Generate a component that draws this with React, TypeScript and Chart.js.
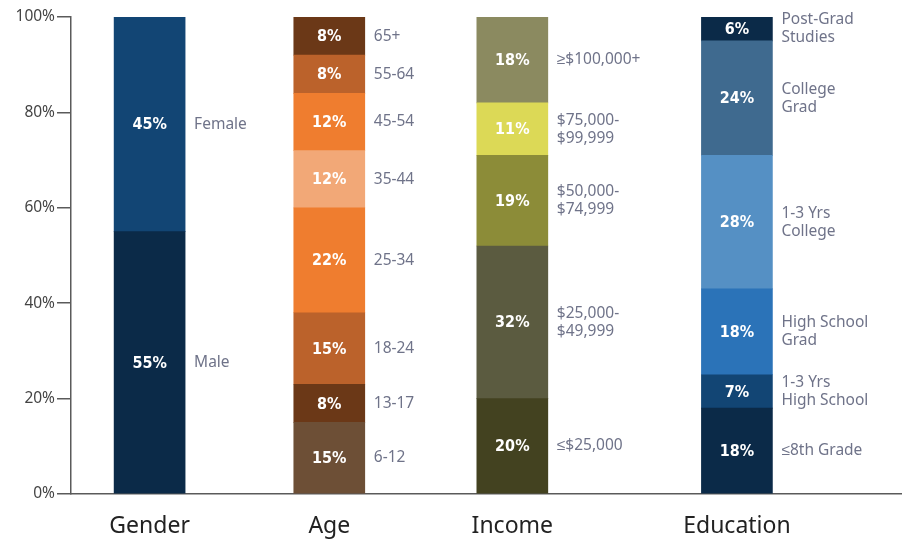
import React, { useEffect, useRef } from "react";
import { Chart, registerables } from "chart.js";

Chart.register(...registerables);

const categories = ["Gender", "Age", "Income", "Education"];

const genderLabels = ["Male", "Female"];
const genderValues = [55, 45];

const ageLabels = ["6-12", "13-17", "18-24", "25-34", "35-44", "45-54", "55-64", "65+"];
const ageValues = [15, 8, 15, 22, 12, 12, 8, 8];

const incomeLabels = ["≤$25,000", "$25,000-\n$49,999", "$50,000-\n$74,999", "$75,000-\n$99,999", "≥$100,000+"];
const incomeValues = [20, 32, 19, 11, 18];

const educationLabels = ["≤8th Grade", "1-3 Yrs\nHigh School", "High School\nGrad", "1-3 Yrs\nCollege", "College\nGrad", "Post-Grad\nStudies"];
const educationValues = [18, 7, 18, 28, 24, 6];

const yTicks = [0, 20, 40, 60, 80, 100];

// styles / layout (not data)
const genderColors = ["#0b2a48", "#124574"];
const ageColors = ["#6d4f36", "#6b3817", "#bb622b", "#ef7d2f", "#f2a877", "#ef7d2f", "#bb622b", "#6b3817"];
const incomeColors = ["#434220", "#5b5b40", "#8c8c38", "#dcd956", "#8b8a60"];
const educationColors = ["#0b2a48", "#124574", "#2b73b8", "#5590c4", "#3f6a8f", "#0b2a48"];
const categorySlots = [3.5, 11.5, 19.65, 29.65];
const slotRange = 37;

const groups = [
  { labels: genderLabels, values: genderValues, colors: genderColors },
  { labels: ageLabels, values: ageValues, colors: ageColors },
  { labels: incomeLabels, values: incomeValues, colors: incomeColors },
  { labels: educationLabels, values: educationValues, colors: educationColors },
];

const labelPlugin = {
  id: "segLabels",
  afterDatasetsDraw(chart: any) {
    const ctx = chart.ctx;
    const area = chart.chartArea;
    chart.data.datasets.forEach((ds: any, i: number) => {
      const meta = chart.getDatasetMeta(i);
      const el: any = meta.data[0];
      if (!el) return;
      const top = Math.max(Math.min(el.y, el.base), area.top);
      const bottom = Math.min(Math.max(el.y, el.base), area.bottom);
      const cy = (top + bottom) / 2;
      ctx.save();
      ctx.fillStyle = "#ffffff";
      ctx.font = "bold 16px 'DejaVu Sans Condensed', 'DejaVu Sans', sans-serif";
      ctx.textAlign = "center";
      ctx.textBaseline = "middle";
      ctx.fillText(ds.rawValue + "%", el.x, cy + 1);
      ctx.fillStyle = "#6f7389";
      ctx.font = "15.5px 'Noto Sans', sans-serif";
      ctx.textAlign = "left";
      const lines = String(ds.segmentLabel).split("\n");
      const lh = 18;
      const startY = cy - ((lines.length - 1) * lh) / 2;
      lines.forEach((ln: string, k: number) => {
        ctx.fillText(ln, el.x + el.width / 2 + 9, startY + k * lh);
      });
      ctx.restore();
    });
  },
};

export default function App() {
  const ref = useRef<HTMLCanvasElement>(null);
  useEffect(() => {
    document.body.style.margin = "0";
    const datasets: any[] = [];
    groups.forEach((g, gi) => {
      g.values.forEach((v, j) => {
        datasets.push({
          data: [{ x: categorySlots[gi], y: v }],
          backgroundColor: g.colors[j],
          borderWidth: 0,
          barThickness: 71,
          segmentLabel: g.labels[j],
          rawValue: v,
        });
      });
    });
    const chart = new Chart(ref.current as HTMLCanvasElement, {
      type: "bar",
      data: { datasets },
      plugins: [labelPlugin],
      options: {
        animation: false,
        responsive: false,
        layout: { padding: { top: 17, left: 0, right: 0, bottom: 0 } },
        plugins: { legend: { display: false }, tooltip: { enabled: false } },
        scales: {
          x: {
            type: "linear",
            stacked: true,
            offset: false,
            min: 0,
            max: slotRange,
            grid: { display: false, offset: false },
            border: { display: true, color: "#5a5a5a", width: 1.5 },
            afterBuildTicks: (axis: any) => {
              axis.ticks = categorySlots.map((v) => ({ value: v }));
            },
            afterFit: (scale: any) => {
              scale.height = 47;
            },
            ticks: {
              autoSkip: false,
              maxRotation: 0,
              padding: 11,
              color: "#222222",
              font: { family: "'Noto Sans', sans-serif", size: 23 },
              callback: (value: any) => {
                const i = categorySlots.indexOf(Number(value));
                return i >= 0 ? categories[i] : "";
              },
            },
          },
          y: {
            type: "linear",
            stacked: true,
            min: 0,
            max: 100,
            afterBuildTicks: (axis: any) => {
              axis.ticks = yTicks.map((v) => ({ value: v }));
            },
            afterFit: (scale: any) => {
              scale.width = 71;
            },
            grid: { drawOnChartArea: false, drawTicks: true, tickLength: 14, color: "#5a5a5a", lineWidth: 1.5 },
            border: { display: true, color: "#5a5a5a", width: 1.5 },
            ticks: {
              padding: 2,
              color: "#444444",
              font: { family: "'Noto Sans', sans-serif", size: 15.5 },
              callback: (v: any) => v + "%",
            },
          },
        },
      } as any,
    });
    return () => chart.destroy();
  }, []);
  return (
    <div style={{ width: 902, height: 541, background: "#ffffff" }}>
      <canvas ref={ref} width={902} height={541} />
    </div>
  );
}
